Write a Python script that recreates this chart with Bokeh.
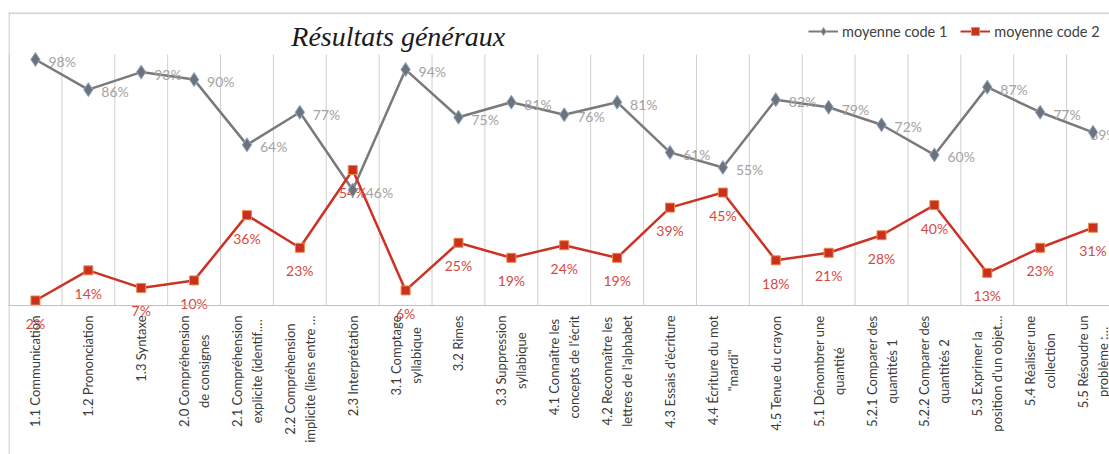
import math
from bokeh.plotting import figure
from bokeh.models import (Range1d, ColumnDataSource, Legend, LegendItem, Span)
from bokeh.core.properties import value
from bokeh.embed import file_html
from bokeh.resources import INLINE

categories = [
    "1.1 Communication",
    "1.2 Prononciation",
    "1.3 Syntaxe",
    "2.0 Compréhension\nde consignes",
    "2.1 Compréhension\nexplicite (identif.…",
    "2.2 Compréhension\nimplicite (liens entre …",
    "2.3 Interprétation",
    "3.1 Comptage\nsyllabique",
    "3.2 Rimes",
    "3.3 Suppression\nsyllabique",
    "4.1 Connaître les\nconcepts de l'écrit",
    "4.2 Reconnaître les\nlettres de l'alphabet",
    "4.3 Essais d'écriture",
    "4.4 Écriture du mot\n\"mardi\"",
    "4.5 Tenue du crayon",
    "5.1 Dénombrer une\nquantité",
    "5.2.1 Comparer des\nquantités 1",
    "5.2.2 Comparer des\nquantités 2",
    "5.3 Exprimer la\nposition d'un objet…",
    "5.4 Réaliser une\ncollection",
    "5.5 Résoudre un\nproblème :…",
]
code1 = [98, 86, 93, 90, 64, 77, 46, 94, 75, 81, 76, 81, 61, 55, 82, 79, 72, 60, 87, 77, 69]
code2 = [2, 14, 7, 10, 36, 23, 54, 6, 25, 19, 24, 19, 39, 45, 18, 21, 28, 40, 13, 23, 31]
series_names = ["moyenne code 1", "moyenne code 2"]
title_text = "Résultats généraux"

n = len(categories)
xs = list(range(n))
# label offsets (screen px): last grey label squeezed left like the original
off1 = [13] * n
off1[-1] = -3
src = ColumnDataSource(dict(
    x=xs, c1=code1, c2=code2, zero=[0] * n, cat=categories, off1=off1,
    t1=[f"{v}%" for v in code1], t2=[f"{v}%" for v in code2],
))
bounds = [i - 0.5 for i in range(n + 1)]
gsrc = ColumnDataSource(dict(x=bounds, y0=[0] * len(bounds), y1=[100] * len(bounds)))

FONT = "Lato"
W, H = 1109, 454
LEFT, TOP = 8, 12
PX_X = 52.88          # pixels per category
PX_Y = 2.51           # pixels per percent
Y0_PAGE = 305         # page row of the 0 % baseline
x_start = -0.5 - 0.5 / PX_X
x_end = x_start + (W - LEFT) / PX_X
y_end = (Y0_PAGE - TOP) / PX_Y
y_start = -(H - Y0_PAGE) / PX_Y

p = figure(width=W, height=H, output_backend="svg", toolbar_location=None,
           x_range=Range1d(x_start, x_end), y_range=Range1d(y_start, y_end),
           x_axis_location=None, y_axis_location=None,
           min_border_left=LEFT, min_border_right=0, min_border_top=TOP,
           min_border_bottom=0)
p.outline_line_color = None
p.background_fill_color = "white"
p.border_fill_color = "white"
p.grid.visible = False
p.xgrid.visible = False
p.ygrid.visible = False

GREY_LINE, GREY_FILL, GREY_EDGE = "#7a7a7a", "#6e737a", "#8eaacb"
RED_LINE, RED_FILL, RED_EDGE = "#cc3226", "#c83020", "#ee8844"

# chart border (top + left) and baseline
p.add_layout(Span(location=y_end - 0.5 / PX_Y, dimension="width",
                  line_color="#a6a6a6", line_width=1))
p.add_layout(Span(location=-0.5, dimension="height",
                  line_color="#bcbcbc", line_width=1))
# vertical category gridlines
p.segment(x0="x", y0="y0", x1="x", y1="y1", source=gsrc,
          line_color="#d0d0d0", line_width=1)
p.add_layout(Span(location=0, dimension="width", line_color="#bfbfbf", line_width=1))

# category labels (rotated, top aligned, lines centred)
p.text(x="x", y="zero", text="cat", source=src, angle=math.pi / 2,
       anchor="center_right", text_align="center", y_offset=10,
       text_font=value(FONT), text_font_size="13px", text_color="#3a3a3a",
       text_line_height=1.25)

# series lines
l1 = p.line("x", "c1", source=src, line_color=GREY_LINE, line_width=2.5)
l2 = p.line("x", "c2", source=src, line_color=RED_LINE, line_width=2.5)

# data labels
p.text(x="x", y="c1", text="t1", source=src, x_offset="off1", y_offset=2,
       text_align="left", text_baseline="middle",
       text_font=value(FONT), text_font_size="14px", text_color="#a3a3a3")
p.text(x="x", y="c2", text="t2", source=src, y_offset=23,
       text_align="center", text_baseline="middle",
       text_font=value(FONT), text_font_size="14px", text_color="#d44a42")

# markers
m1 = p.scatter("x", "c1", source=src, marker="diamond", size=14,
               fill_color=GREY_FILL, line_color=GREY_EDGE, line_width=1)
m2 = p.scatter("x", "c2", source=src, marker="square", size=9,
               fill_color=RED_FILL, line_color=RED_EDGE, line_width=1)

# title
p.text(x=[6.86], y=[107.2], text=[title_text], text_align="center",
       text_baseline="middle", text_font=value("Liberation Serif"),
       text_font_style="italic", text_font_size="28px", text_color="#1a1a1a")

# legend keys: smaller markers, thinner lines (not drawn in the plot itself)
nan = float("nan")
kl1 = p.line([nan], [nan], line_color=GREY_LINE, line_width=2)
km1 = p.scatter([nan], [nan], marker="diamond", size=8,
                fill_color=GREY_FILL, line_color=GREY_EDGE, line_width=1)
kl2 = p.line([nan], [nan], line_color=RED_LINE, line_width=2)
km2 = p.scatter([nan], [nan], marker="square", size=6,
                fill_color=RED_FILL, line_color=RED_EDGE, line_width=1)

legend = Legend(items=[LegendItem(label=series_names[0], renderers=[kl1, km1]),
                       LegendItem(label=series_names[1], renderers=[kl2, km2])],
                location=(800, H - 41), orientation="horizontal",
                border_line_color=None, background_fill_alpha=0,
                label_text_font=FONT, label_text_font_size="14.5px",
                label_text_color="#404040",
                glyph_width=30, glyph_height=20, label_standoff=4, spacing=13,
                padding=0, margin=0)
p.add_layout(legend)

open("out.html", "w").write(file_html(p, INLINE))
